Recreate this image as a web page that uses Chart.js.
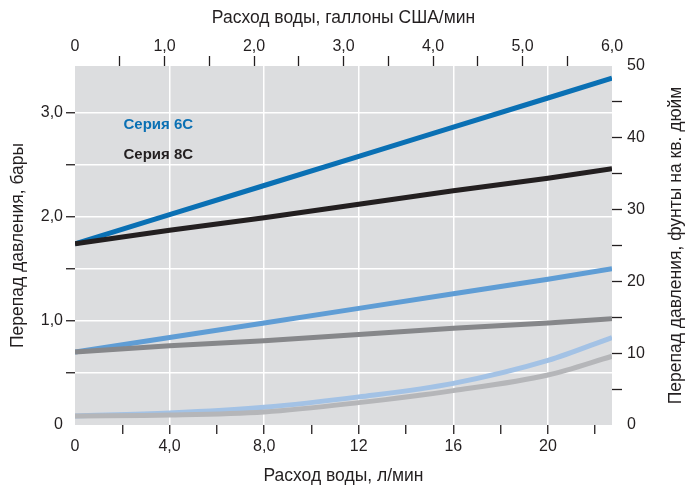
<!DOCTYPE html>
<html>
<head>
<meta charset="utf-8">
<script src="https://cdn.jsdelivr.net/npm/chart.js@4/dist/chart.umd.min.js"></script>
<style>
  html, body { margin: 0; padding: 0; background: #ffffff; }
  #wrap { width: 693px; height: 491px; position: relative; }
</style>
</head>
<body>
<div id="wrap"><canvas id="c" width="693" height="491"></canvas></div>
<script>
// ---- data (bar vs. L/min) ----
const flowLpm = [0, 4, 8, 12, 16, 20, 22.71];
const series6C_high = [1.74, 2.02, 2.30, 2.58, 2.86, 3.14, 3.33];
const series8C_high = [1.74, 1.87, 1.99, 2.12, 2.25, 2.37, 2.46];
const series6C_mid  = [0.70, 0.84, 0.98, 1.12, 1.26, 1.40, 1.50];
const series8C_mid  = [0.70, 0.76, 0.81, 0.87, 0.93, 0.98, 1.02];
const series6C_low  = [0.087, 0.115, 0.17, 0.27, 0.40, 0.62, 0.84];
const series8C_low  = [0.087, 0.095, 0.125, 0.215, 0.33, 0.48, 0.66];

// ---- tick definitions ----
const bottomTicks = [0, 2, 4, 6, 8, 10, 12, 14, 16, 18, 20, 22];
const bottomLabelValues = [0, 4, 8, 12, 16, 20];
const bottomLabelTexts = ['0', '4,0', '8,0', '12', '16', '20'];
const topTicks = [0, 0.5, 1, 1.5, 2, 2.5, 3, 3.5, 4, 4.5, 5, 5.5, 6];
const topLabelValues = [0, 1, 2, 3, 4, 5, 6];
const topLabelTexts = ['0', '1,0', '2,0', '3,0', '4,0', '5,0', '6,0'];
const leftTicks = [0, 0.5, 1, 1.5, 2, 2.5, 3];
const leftLabelValues = [0, 1, 2, 3];
const leftLabelTexts = ['0', '1,0', '2,0', '3,0'];
const rightTicks = [0, 5, 10, 15, 20, 25, 30, 35, 40, 45, 50];
const rightLabelValues = [0, 10, 20, 30, 40, 50];
const rightLabelTexts = ['0', '10', '20', '30', '40', '50'];

const seriesNames = ['Серия 6C', 'Серия 8C'];
const seriesNameColors = ['#0a70b4', '#231f20'];
const seriesNameX = [2.05, 2.05];     // L/min
const seriesNameY = [2.88, 2.59];     // bar

const titleTop = 'Расход воды, галлоны США/мин';
const titleBottom = 'Расход воды, л/мин';
const titleLeft = 'Перепад давления, бары';
const titleRight = 'Перепад давления, фунты на кв. дюйм';

const X_MAX = 22.71, Y_MAX = 3.4474, GAL_MAX = 6, PSI_MAX = 50;

function pts(ys) { return flowLpm.map((x, i) => ({ x: x, y: ys[i] })); }
function labelFor(values, texts) {
  return v => { const i = values.findIndex(a => Math.abs(a - v) < 1e-6); return i >= 0 ? texts[i] : ''; };
}
function setTicks(list) { return axis => { axis.ticks = list.map(v => ({ value: v })); }; }

const FONT = "'Liberation Sans', Arial, sans-serif";
const INK = '#231f20';
const TITLE_SIZE = 17.5;

const bgPlugin = {
  id: 'bg',
  beforeDraw(chart) {
    const a = chart.chartArea, ctx = chart.ctx;
    ctx.save();
    ctx.fillStyle = '#dcdddf';
    ctx.fillRect(a.left, a.top, a.right - a.left, a.bottom - a.top);
    ctx.restore();
  }
};
const namePlugin = {
  id: 'names',
  afterDatasetsDraw(chart) {
    const ctx = chart.ctx, xs = chart.scales.x, ys = chart.scales.y;
    ctx.save();
    ctx.font = "bold 15px " + FONT;
    ctx.textAlign = 'left';
    ctx.textBaseline = 'middle';
    seriesNames.forEach((n, i) => {
      ctx.fillStyle = seriesNameColors[i];
      ctx.fillText(n, xs.getPixelForValue(seriesNameX[i]), ys.getPixelForValue(seriesNameY[i]));
    });
    // right-axis title, reading bottom-to-top like the left one
    const r = chart.scales.y2;
    ctx.translate(r.right - 17, (r.top + r.bottom) / 2);
    ctx.rotate(-Math.PI / 2);
    ctx.font = TITLE_SIZE + "px " + FONT;
    ctx.fillStyle = INK;
    ctx.textAlign = 'center';
    ctx.textBaseline = 'middle';
    ctx.fillText(titleRight, 0, 0);
    ctx.restore();
  }
};

const lineDs = (label, data, color, order, curve) => ({
  label, data: pts(data), borderColor: color, backgroundColor: color,
  borderWidth: 5, pointRadius: 0, fill: false, order,
  tension: curve ? 0.4 : 0, cubicInterpolationMode: curve ? 'monotone' : 'default',
  borderCapStyle: 'butt', xAxisID: 'x', yAxisID: 'y'
});

new Chart(document.getElementById('c'), {
  type: 'line',
  data: {
    datasets: [
      lineDs('8C high', series8C_high, '#231f20', 1, false),
      lineDs('6C high', series6C_high, '#0a70b4', 2, false),
      lineDs('8C mid', series8C_mid, '#86878a', 3, false),
      lineDs('6C mid', series6C_mid, '#5f9dd5', 4, false),
      lineDs('8C low', series8C_low, '#b5b6b9', 5, true),
      lineDs('6C low', series6C_low, '#a3c2e5', 6, true)
    ]
  },
  options: {
    responsive: false,
    animation: false,
    layout: { padding: 0 },
    plugins: { legend: { display: false }, tooltip: { enabled: false } },
    scales: {
      x: {
        type: 'linear', position: 'bottom', min: 0, max: X_MAX,
        afterBuildTicks: setTicks(bottomTicks),
        afterFit: s => { s.height = 66; },
        border: { display: false },
        grid: {
          drawOnChartArea: true, tickLength: 9, lineWidth: 1.5,
          color: c => (c.tick && c.tick.value > 0 && c.tick.value % 4 === 0) ? '#ffffff' : 'rgba(0,0,0,0)',
          tickColor: c => (c.tick && c.tick.value > 0) ? INK : 'rgba(0,0,0,0)',
          tickWidth: 1.3
        },
        ticks: { autoSkip: false, maxRotation: 0, padding: 3, color: INK, font: { family: FONT, size: 16 },
                 callback: labelFor(bottomLabelValues, bottomLabelTexts) },
        title: { display: true, text: titleBottom, color: INK, font: { family: FONT, size: TITLE_SIZE }, padding: { top: 0, bottom: 4 } }
      },
      x2: {
        type: 'linear', position: 'top', min: 0, max: GAL_MAX,
        afterBuildTicks: setTicks(topTicks),
        afterFit: s => { s.height = 66; },
        border: { display: false },
        grid: {
          drawOnChartArea: false, tickLength: 10, tickWidth: 1.3,
          tickColor: c => (c.tick && c.tick.value > 0 && c.tick.value < GAL_MAX) ? INK : 'rgba(0,0,0,0)'
        },
        ticks: { autoSkip: false, maxRotation: 0, padding: 0, color: INK, font: { family: FONT, size: 16 },
                 callback: labelFor(topLabelValues, topLabelTexts) },
        title: { display: true, text: titleTop, color: INK, font: { family: FONT, size: TITLE_SIZE }, padding: { top: 8, bottom: 0 } }
      },
      y: {
        type: 'linear', position: 'left', min: 0, max: Y_MAX,
        afterBuildTicks: setTicks(leftTicks),
        afterFit: s => { s.width = 75; },
        border: { display: false },
        grid: {
          drawOnChartArea: true, tickLength: 9, lineWidth: 1.5, tickWidth: 1.3,
          color: c => (c.tick && c.tick.value > 0) ? '#ffffff' : 'rgba(0,0,0,0)',
          tickColor: c => (c.tick && c.tick.value > 0) ? INK : 'rgba(0,0,0,0)'
        },
        ticks: { autoSkip: false, padding: 3, color: INK, font: { family: FONT, size: 16 },
                 callback: labelFor(leftLabelValues, leftLabelTexts) },
        title: { display: true, text: titleLeft, color: INK, font: { family: FONT, size: TITLE_SIZE }, padding: { top: 8, bottom: 0 } }
      },
      y2: {
        type: 'linear', position: 'right', min: 0, max: PSI_MAX,
        afterBuildTicks: setTicks(rightTicks),
        afterFit: s => { s.width = 81; },
        border: { display: false },
        grid: {
          drawOnChartArea: false, tickLength: 10, tickWidth: 1.3,
          tickColor: c => (c.tick && c.tick.value > 0 && c.tick.value < PSI_MAX) ? INK : 'rgba(0,0,0,0)'
        },
        ticks: { autoSkip: false, padding: 5, color: INK, font: { family: FONT, size: 16 },
                 callback: labelFor(rightLabelValues, rightLabelTexts) },
        title: { display: false }
      }
    }
  },
  plugins: [bgPlugin, namePlugin]
});
</script>
</body>
</html>
